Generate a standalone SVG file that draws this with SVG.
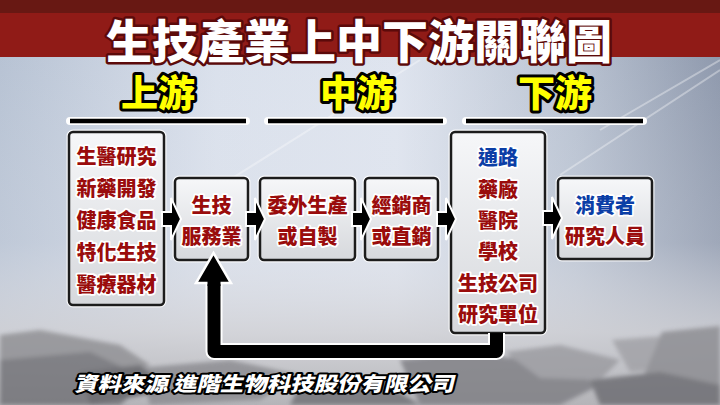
<svg xmlns="http://www.w3.org/2000/svg" width="720" height="405" viewBox="0 0 720 405">
<defs>
  <linearGradient id="bgH" x1="0" y1="0" x2="1" y2="0">
    <stop offset="0" stop-color="#b3bfd1"/>
    <stop offset="0.3" stop-color="#d8dfeb"/>
    <stop offset="0.55" stop-color="#dde3ee"/>
    <stop offset="0.8" stop-color="#b5bfcf"/>
    <stop offset="1" stop-color="#8893a8"/>
  </linearGradient>
  <linearGradient id="bgV" x1="0" y1="0" x2="0" y2="1">
    <stop offset="0" stop-color="#ffffff" stop-opacity="0"/>
    <stop offset="0.6" stop-color="#e4e6ec" stop-opacity="0.25"/>
    <stop offset="0.82" stop-color="#d2d2d6" stop-opacity="0.85"/>
    <stop offset="1" stop-color="#b4b4b8" stop-opacity="1"/>
  </linearGradient>
  <linearGradient id="boxFill" x1="0" y1="0" x2="0" y2="1">
    <stop offset="0" stop-color="#f6f7f9"/>
    <stop offset="1" stop-color="#d6d8dc"/>
  </linearGradient>
  <filter id="blur" x="-10%" y="-10%" width="120%" height="120%">
    <feGaussianBlur stdDeviation="2"/>
  </filter>
  <path id="arr" d="M0,-7 L9,-7 L9,-21 L19,0 L9,21 L9,7 L0,7 Z"/>
</defs>
<style>
  .box { fill: url(#boxFill); stroke: #1c1c1c; stroke-width: 2.5; }
  .boxo { fill: none; stroke: #ffffff; stroke-width: 5; opacity: 0.8; }
  .t { font-family: "Noto Sans CJK TC", "Noto Sans CJK SC", sans-serif; font-weight: 900; font-size: 20px; text-anchor: middle; paint-order: stroke; stroke: #ffffff; stroke-width: 3.5; stroke-linejoin: round; }
  .red { fill: #9a0c0c; }
  .blue { fill: #0b3ea6; }
  .head { font-family: "Noto Sans CJK TC", "Noto Sans CJK SC", sans-serif; font-weight: 900; font-size: 37px; text-anchor: middle; fill: #ffff00; paint-order: stroke; stroke: #000000; stroke-width: 6; stroke-linejoin: round; }
  .arrow { fill: #000000; stroke: #ffffff; stroke-width: 2; stroke-linejoin: miter; }
  .rule-o { stroke: #ffffff; stroke-width: 8; stroke-linecap: round; }
  .rule { stroke: #000000; stroke-width: 4.5; }
</style>

<!-- background -->
<rect x="0" y="0" width="720" height="405" fill="url(#bgH)"/>
<g opacity="0.35" stroke="#ffffff" stroke-width="2">
  <line x1="150" y1="230" x2="420" y2="60"/>
  <line x1="560" y1="175" x2="720" y2="70"/>
  <line x1="600" y1="130" x2="720" y2="60"/>
</g>
<rect x="0" y="0" width="720" height="405" fill="url(#bgV)"/>
<g filter="url(#blur)" opacity="0.8">
  <polygon points="0,335 40,330 120,345 150,365 110,385 0,380" fill="#8e8e92"/>
  <polygon points="0,360 90,352 150,380 120,405 0,405" fill="#6f6f74"/>
  <polygon points="140,368 230,360 300,375 260,400 150,405" fill="#8a8a8f"/>
  <polygon points="80,372 140,365 170,390 90,405" fill="#5e5e63"/>
  <polygon points="400,360 470,352 560,365 600,385 560,405 420,405" fill="#7d7d82"/>
  <polygon points="505,352 560,345 620,360 600,380 540,378" fill="#9a9a9f"/>
  <polygon points="612,340 665,336 700,345 692,368 630,372" fill="#a0a0a5"/>
  <polygon points="662,332 720,326 720,400 680,405 640,385" fill="#8b8b90"/>
  <polygon points="590,380 660,372 720,385 720,405 600,405" fill="#6a6a6f"/>
  <polygon points="300,385 380,380 420,405 290,405" fill="#707075"/>
</g>

<!-- title band -->
<rect x="0" y="0" width="720" height="57" fill="#901b17"/>
<rect x="0" y="0" width="720" height="13" fill="#681813"/>
<g id="title">
  <text x="359" y="58" font-family="Noto Sans CJK TC, Noto Sans CJK SC, sans-serif" font-weight="900" font-size="46" text-anchor="middle" fill="#ffffff" stroke="#5c0a0a" stroke-width="5" stroke-linejoin="round" paint-order="stroke">生技產業上中下游關聯圖</text>
</g>

<!-- section headers -->
<g id="hdr-up">
  <text class="head" x="158" y="107">上游</text>
  <line class="rule-o" x1="70" y1="121" x2="246" y2="121"/>
  <line class="rule" x1="70" y1="121" x2="246" y2="121"/>
</g>
<g id="hdr-mid">
  <text class="head" x="357" y="107">中游</text>
  <line class="rule-o" x1="268" y1="121" x2="443" y2="121"/>
  <line class="rule" x1="268" y1="121" x2="443" y2="121"/>
</g>
<g id="hdr-down">
  <text class="head" x="555" y="107">下游</text>
  <line class="rule-o" x1="466" y1="121" x2="643" y2="121"/>
  <line class="rule" x1="466" y1="121" x2="643" y2="121"/>
</g>

<!-- nodes -->
<g id="n-upstream">
  <rect class="boxo" x="69" y="132" width="95" height="173" rx="4"/>
  <rect class="box" x="69" y="132" width="95" height="173" rx="4"/>
  <text class="t red" x="116.5" y="164">生醫研究</text>
  <text class="t red" x="116.5" y="196">新藥開發</text>
  <text class="t red" x="116.5" y="228">健康食品</text>
  <text class="t red" x="116.5" y="260">特化生技</text>
  <text class="t red" x="116.5" y="292">醫療器材</text>
</g>
<g id="n-service">
  <rect class="boxo" x="175" y="178" width="73" height="82" rx="4"/>
  <rect class="box" x="175" y="178" width="73" height="82" rx="4"/>
  <text class="t red" x="211.5" y="213">生技</text>
  <text class="t red" x="211.5" y="243.5">服務業</text>
</g>
<g id="n-produce">
  <rect class="boxo" x="260" y="178" width="95" height="82" rx="4"/>
  <rect class="box" x="260" y="178" width="95" height="82" rx="4"/>
  <text class="t red" x="307.5" y="213">委外生產</text>
  <text class="t red" x="307.5" y="243.5">或自製</text>
</g>
<g id="n-dealer">
  <rect class="boxo" x="365" y="178" width="73" height="82" rx="4"/>
  <rect class="box" x="365" y="178" width="73" height="82" rx="4"/>
  <text class="t red" x="401.5" y="213">經銷商</text>
  <text class="t red" x="401.5" y="243.5">或直銷</text>
</g>
<g id="n-channel">
  <rect class="boxo" x="451" y="132" width="94" height="201" rx="4"/>
  <rect class="box" x="451" y="132" width="94" height="201" rx="4"/>
  <text class="t blue" x="498" y="165">通路</text>
  <text class="t red" x="498" y="196.5">藥廠</text>
  <text class="t red" x="498" y="228">醫院</text>
  <text class="t red" x="498" y="259">學校</text>
  <text class="t red" x="498" y="290.5">生技公司</text>
  <text class="t red" x="498" y="321.5">研究單位</text>
</g>
<g id="n-consumer">
  <rect class="boxo" x="558" y="178" width="94" height="81" rx="4"/>
  <rect class="box" x="558" y="178" width="94" height="81" rx="4"/>
  <text class="t blue" x="605" y="213">消費者</text>
  <text class="t red" x="605" y="244">研究人員</text>
</g>

<!-- connectors -->
<g id="connectors">
  <use href="#arr" class="arrow" transform="translate(162,219)"/>
  <use href="#arr" class="arrow" transform="translate(246,219)"/>
  <use href="#arr" class="arrow" transform="translate(352,219)"/>
  <use href="#arr" class="arrow" transform="translate(437,219)"/>
  <use href="#arr" class="arrow" transform="translate(543,218)"/>
  <path d="M496.5,333 L496.5,351.5 L214,351.5 L214,280" fill="none" stroke="#ffffff" stroke-width="17" stroke-linejoin="round"/>
  <path d="M496.5,333 L496.5,351.5 L214,351.5 L214,280" fill="none" stroke="#000000" stroke-width="13" stroke-linejoin="round"/>
  <polygon points="213.5,253 231,283 196,283" fill="#000000" stroke="#ffffff" stroke-width="2.5" stroke-linejoin="miter"/>
  <rect x="207.5" y="278" width="13" height="8" fill="#000000"/>
</g>

<!-- source -->
<g id="source">
  <text transform="translate(74,391) skewX(-14)" x="0" y="0" font-family="Noto Sans CJK TC, Noto Sans CJK SC, sans-serif" font-weight="900" font-size="20" fill="#ffffff" stroke="#000000" stroke-width="4" stroke-linejoin="round" paint-order="stroke" textLength="380" lengthAdjust="spacingAndGlyphs">資料來源 進階生物科技股份有限公司</text>
</g>
</svg>
